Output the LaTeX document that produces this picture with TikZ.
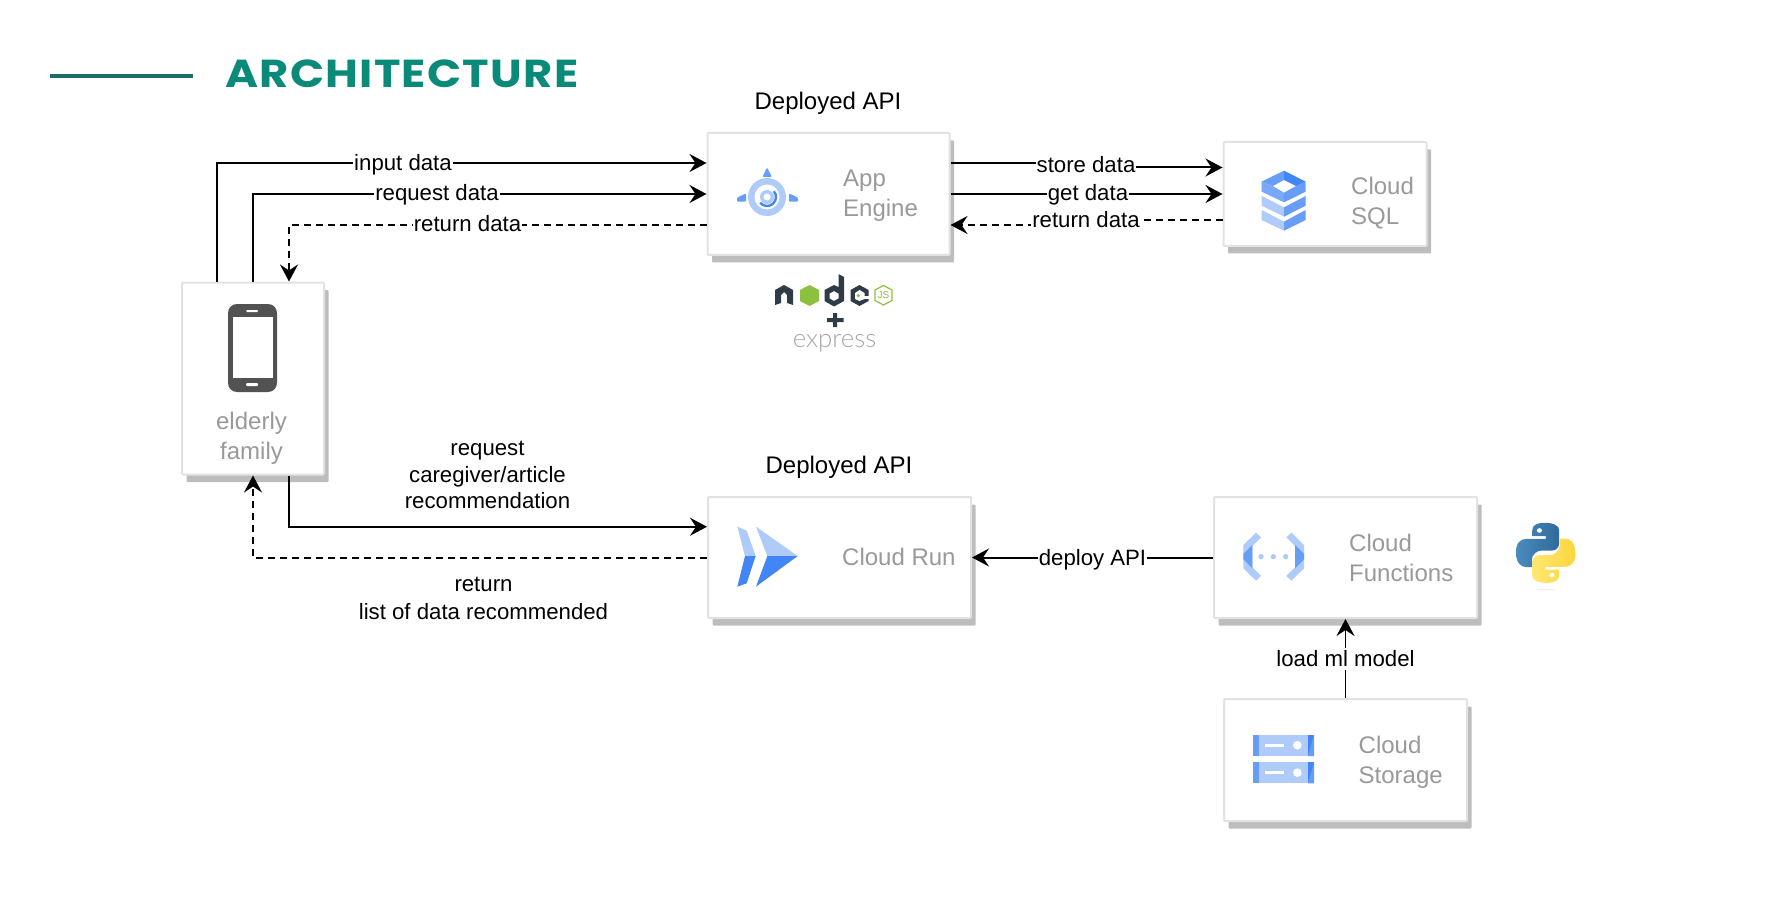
\documentclass[tikz,border=0pt]{standalone}
\usepackage{fontspec}
\setmainfont{Liberation Sans}
\newfontfamily\titlefont[LetterSpace=3.3,FakeStretch=1.15]{Poppins}
\newfontfamily\lightfont{Lato Light}
\usetikzlibrary{arrows.meta,calc,shadows}
\definecolor{boxedge}{HTML}{E2E2E2}
\definecolor{shade}{HTML}{BDBDBD}
\definecolor{graytext}{HTML}{999999}
\definecolor{teal}{HTML}{0A8A78}
\definecolor{tealline}{HTML}{1A6E66}
\definecolor{gl}{HTML}{AECBFA}
\definecolor{gm}{HTML}{669DF6}
\definecolor{gd}{HTML}{4285F4}
\definecolor{ink}{HTML}{2F3B47}
\definecolor{njs}{HTML}{8CC13F}
\definecolor{pyblueA}{HTML}{4B8BBE}
\definecolor{pyblueB}{HTML}{2F6A9B}
\definecolor{pyyelA}{HTML}{FFE873}
\definecolor{pyyelB}{HTML}{FFD43B}
\tikzset{
  x=1pt,y=-1pt,
  box/.style={draw=boxedge,line width=2pt,fill=white,rounded corners=1pt,inner sep=0pt,
    general shadow={fill=shade,draw=none,shadow xshift=4.5pt,shadow yshift=-7.5pt}},
  grayt/.style={text=graytext,font=\fontsize{24}{30}\selectfont,align=left,inner sep=0pt},
  lab/.style={font=\fontsize{22.2}{26.5}\selectfont,fill=white,inner sep=1pt,align=center},
  freelab/.style={font=\fontsize{22.2}{26.5}\selectfont,inner sep=0pt,align=center},
  api/.style={font=\fontsize{24}{28}\selectfont,inner sep=0pt},
  conn/.style={line width=2pt,-{Stealth[length=17pt,width=18pt,inset=6pt]}},
  back/.style={conn,dashed,dash pattern=on 7pt off 5pt},
}
\begin{document}
\begin{tikzpicture}
\useasboundingbox (0,0) rectangle (1782,901);
% title
\coordinate (tl) at (50,76); \coordinate (tr) at (193,76);
\draw[tealline,line width=4pt] (tl) -- (tr);
\node[anchor=base west,inner sep=0pt,text=teal,font=\titlefont\bfseries\fontsize{39}{40}\selectfont] (title) at (225,88) {ARCHITECTURE};
% boxes
\node[box,minimum width=142pt,minimum height=192pt] (phone) at (253,378.5) {};
\node[box,minimum width=242pt,minimum height=122pt] (app) at (828.5,194) {};
\node[box,minimum width=203pt,minimum height=104pt] (sql) at (1325,194) {};
\node[box,minimum width=263pt,minimum height=121pt] (run) at (839.5,557.5) {};
\node[box,minimum width=263pt,minimum height=121pt] (fn) at (1345.5,557.5) {};
\node[box,minimum width=243pt,minimum height=122pt] (store) at (1345.5,760) {};
% box texts
\node[grayt,align=center] (tphone) at (251.5,438.5) {elderly\\family};
\node[grayt,anchor=west] (tapp) at (843,196) {App\\Engine};
\node[grayt,anchor=west] (tsql) at (1351,203.5) {Cloud\\SQL};
\node[grayt,anchor=west] (trun) at (842,557) {Cloud Run};
\node[grayt,anchor=west] (tfn) at (1349,557.5) {Cloud\\Functions};
\node[grayt,anchor=west] (tstore) at (1358.5,762) {Cloud\\Storage};
\node[api] (api1) at (828,103) {Deployed API};
\node[api] (api2) at (839,467) {Deployed API};
% connectors
\coordinate (p1) at ($(phone.north west)!.25!(phone.north east)$);
\coordinate (p2) at ($(phone.north west)!.5!(phone.north east)$);
\coordinate (p3) at ($(phone.north west)!.75!(phone.north east)$);
\coordinate (a1) at ($(app.north west)!.25!(app.south west)$);
\coordinate (a2) at ($(app.north west)!.5!(app.south west)$);
\coordinate (a3) at ($(app.north west)!.75!(app.south west)$);
\coordinate (b1) at ($(app.north east)!.25!(app.south east)$);
\coordinate (b2) at ($(app.north east)!.5!(app.south east)$);
\coordinate (b3) at ($(app.north east)!.75!(app.south east)$);
\coordinate (s1) at ($(sql.north west)!.25!(sql.south west)$);
\coordinate (s2) at ($(sql.north west)!.5!(sql.south west)$);
\coordinate (s3) at ($(sql.north west)!.75!(sql.south west)$);
\coordinate (m1) at ($(b1)!.5!(s1)$);
\coordinate (m2) at ($(b2)!.5!(s2)$);
\coordinate (m3) at ($(b3)!.5!(s3)$);
\coordinate (q1) at ($(phone.south west)!.75!(phone.south east)$);
\coordinate (q2) at ($(phone.south west)!.5!(phone.south east)$);
\coordinate (r1) at ($(run.north west)!.25!(run.south west)$);
\coordinate (r2) at (run.west);
\draw[conn] (p1) |- (a1);
\draw[conn] (p2) |- (a2);
\draw[back] (a3) -| (p3);
\node[lab] (l1) at (403,165) {input data};
\node[lab] (l2) at (437,195) {request data};
\node[lab] (l3) at (467.5,223.5) {return data};
\draw[conn] (b1) -| (m1) |- (s1);
\draw[conn] (b2) -- (s2);
\draw[back] (s3) -| (m3) |- (b3);
\node[lab] (l4) at (1086,164.5) {store data};
\node[lab] (l5) at (1088,194.5) {get data};
\node[lab] (l6) at (1086,219.5) {return data};
\draw[conn] (q1) |- (r1);
\draw[back] (r2) -| (q2);
\node[freelab] (l7) at (487.5,475) {request\\caregiver/article\\recommendation};
\node[freelab,font=\fontsize{22.2}{28}\selectfont] (l8) at (483.5,598) {return\\list of data recommended};
\draw[conn] (fn.west) -- (run.east);
\node[lab] (l9) at (1092.5,560) {deploy API};
\draw[conn,line width=1.6pt] (store.north) -- (fn.south);
\node[lab,inner ysep=3pt] (l10) at (1345.5,659) {load ml model};
% phone icon
\fill[black!68,rounded corners=9pt] (228,304) rectangle (277,392);
\fill[white] (233,317) rectangle (273,378);
\fill[white,rounded corners=1pt] (246,310) rectangle (258,312);
\fill[white,rounded corners=1pt] (246,383) rectangle (258,386);
% app engine icon
\fill[gl] (767,197) circle (19);
\fill[white] (767,197) circle (12.5);
\fill[gl] (767,197) circle (7);
\fill[white] (767,197) circle (3.5);
\draw[gd,line width=2.4pt] (773.9,191.2) arc (-40:140:9);
\fill[gm,rounded corners=1pt] (767,167.5) -- (772,177) -- (762.5,177) -- cycle;
\fill[gm,rounded corners=1pt] (746,193.3) -- (746,201.7) -- (737,201.7) -- (737,197.7) -- cycle;
\fill[gm,rounded corners=1pt] (789,193.3) -- (789,201.7) -- (798,201.7) -- (798,197.7) -- cycle;
% node logo
\fill[ink] (775,290) -- (775,305) -- (781,303) -- (781,295) -- (784,292) -- (787,295) -- (787,303) -- (793,305) -- (793,290) -- (784,285) -- cycle;
\fill[njs] (809.5,285) -- (819,290) -- (819,301) -- (809.5,306) -- (800,301) -- (800,290) -- cycle;
\fill[ink,even odd rule] (838.5,274) -- (844,277) -- (844,301) -- (834,306.5) -- (824.5,301) -- (824.5,290) -- (834,285) -- (838.5,287) -- cycle
  (834,291) -- (838.5,293.5) -- (838.5,298.5) -- (834,301) -- (829.5,298.5) -- (829.5,293.5) -- cycle;
\fill[ink] (859.5,285) -- (868.5,290) -- (868.5,301) -- (859.5,306) -- (850.5,301) -- (850.5,290) -- cycle;
\fill[white] (859.5,290) -- (864.5,293) -- (864.5,299) -- (859.5,301) -- (855,299) -- (855,293) -- cycle;
\fill[white] (862,295.5) rectangle (869.5,298.5);
\fill[njs] (858.3,295.7) circle (1.8);
\draw[njs,line width=1.2pt] (883.5,285.5) -- (892,290) -- (892,300.5) -- (883.5,305) -- (875,300.5) -- (875,290) -- cycle;
\node[text=njs,font=\fontsize{10}{10}\selectfont,inner sep=0pt] (js) at (883.5,295.5) {JS};
\fill[ink] (833,313) rectangle (837,327) (827,318) rectangle (843.5,322);
\node[text=black!35,font=\lightfont\fontsize{25.8}{26}\selectfont,inner sep=0pt] (express) at (834.5,343) {express};
% cloud sql icon
\begin{scope}[shift={(1250,160)},scale=1/3]
\fill[gm] (35,65) -- (102,32) -- (102,60) -- (68,78) -- cycle;
\fill[gd] (102,32) -- (167,65) -- (138,78) -- (102,60) -- cycle;
\fill[gm!75!gl] (35,65) -- (68,78) -- (102,98) -- (102,127) -- (35,95) -- cycle;
\fill[gm] (167,65) -- (138,78) -- (102,98) -- (102,127) -- (167,95) -- cycle;
\fill[gl] (35,108) -- (102,142) -- (102,170) -- (35,137) -- cycle;
\fill[gm] (167,108) -- (102,142) -- (102,170) -- (167,137) -- cycle;
\fill[gl] (35,150) -- (102,185) -- (102,212) -- (35,180) -- cycle;
\fill[gm] (167,150) -- (102,185) -- (102,212) -- (167,180) -- cycle;
\end{scope}
% cloud run icon
\begin{scope}[shift={(730,520)},scale=1/3]
\fill[gl] (22,20) -- (50,32) -- (77,108) -- (45,108) -- cycle;
\fill[gd] (77,108) -- (50,190) -- (22,200) -- (45,108) -- cycle;
\fill[gl] (78,20) -- (203,108) -- (112,108) -- cycle;
\fill[gd] (203,108) -- (78,200) -- (112,108) -- cycle;
\end{scope}
% cloud functions icon
\begin{scope}[shift={(1240,510)},scale=1/3]
\fill[gl] (48,68) -- (63,82) -- (37,108) -- (37,172) -- (63,198) -- (48,212) -- (10,175) -- (10,105) -- cycle;
\fill[gm] (37,105) -- (10,132) -- (10,148) -- (37,175) -- cycle;
\fill[gl] (154,68) -- (139,82) -- (165,108) -- (165,172) -- (139,198) -- (154,212) -- (192,175) -- (192,105) -- cycle;
\fill[gm] (165,105) -- (192,132) -- (192,148) -- (165,175) -- cycle;
\fill[gl] (63,140) circle (8) (100,140) circle (8) (137,140) circle (8);
\end{scope}
% cloud storage icon
\begin{scope}[shift={(1245,725)},scale=1/3]
\foreach \r in {0,82}{
\fill[gl] (25,29+\r) rectangle (207,93+\r);
\fill[gm] (25,29+\r) rectangle (43,93+\r);
\fill[gd] (189,29+\r) rectangle (207,93+\r);
\fill[gm] (189,93+\r) -- (207,93+\r) -- (207,29+\r) -- cycle;
\fill[white] (61,57+\r) rectangle (117,66+\r);
\fill[white] (157,61+\r) circle (13);
}
\end{scope}
% python logo
\begin{scope}[shift={(1509.5,515.5)},xscale=.36,yscale=1/3]
\fill[black!6] (100,222) ellipse (28 and 2.5);
\path[left color=pyblueA,right color=pyblueB] (98,22) .. controls (75,22) and (63,30) .. (63,45) -- (63,62) -- (101,62) -- (101,70) -- (48,70) .. controls (30,70) and (18,82) .. (18,110) .. controls (18,140) and (30,155) .. (47,155) -- (62,155) -- (62,133) .. controls (62,118) and (75,105) .. (90,105) -- (118,105) .. controls (130,105) and (138,95) .. (138,83) -- (138,45) .. controls (138,30) and (122,22) .. (98,22) -- cycle;
\fill[white] (83,45) circle (7);
\path[left color=pyyelA,right color=pyyelB] (103,202) .. controls (126,202) and (138,194) .. (138,179) -- (138,162) -- (100,162) -- (100,154) -- (153,154) .. controls (171,154) and (183,142) .. (183,114) .. controls (183,84) and (171,69) .. (154,69) -- (139,69) -- (139,91) .. controls (139,106) and (126,119) .. (111,119) -- (83,119) .. controls (71,119) and (63,129) .. (63,141) -- (63,179) .. controls (63,194) and (79,202) .. (103,202) -- cycle;
\fill[white] (118,179) circle (7);
\end{scope}
\end{tikzpicture}
\end{document}
